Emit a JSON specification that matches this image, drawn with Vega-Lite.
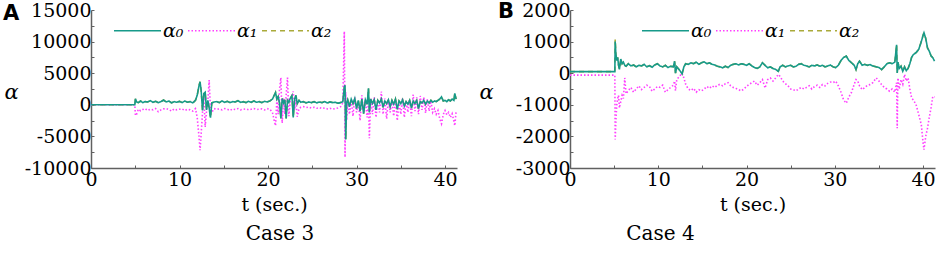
{
 "$schema": "https://vega.github.io/schema/vega-lite/v6.json",
 "padding": {"left": 3, "top": 1, "right": 0, "bottom": 0},
 "spacing": 18,
 "config": {
  "view": {"stroke": null},
  "font": "DejaVu Serif",
  "axis": {"grid": false, "domainColor": "#606060", "domainWidth": 1.5, "tickColor": "#606060", "tickSize": -3, "labelColor": "black", "labelFont": "DejaVu Serif", "labelFontSize": 19, "titleFont": "DejaVu Serif", "titleFontWeight": "normal", "titleColor": "black", "labelFlush": false},
  "title": {"font": "DejaVu Serif", "fontSize": 20, "fontWeight": "normal", "color": "black"}
 },
 "datasets": {
  "A": [
   {"t":0,"a0":0,"a1":0,"a2":0},
   {"t":4.95,"a0":0,"a1":0,"a2":0},
   {"t":5.02,"a0":950,"a1":-1700,"a2":950},
   {"t":5.15,"a0":450,"a1":-1500,"a2":450},
   {"t":5.35,"a0":350,"a1":-700,"a2":350},
   {"t":5.6,"a0":600,"a1":-950,"a2":600},
   {"t":5.85,"a0":350,"a1":-750,"a2":350},
   {"t":6.1,"a0":500,"a1":-600,"a2":500},
   {"t":6.4,"a0":450,"a1":-900,"a2":450},
   {"t":6.7,"a0":650,"a1":-700,"a2":650},
   {"t":7.0,"a0":400,"a1":-800,"a2":400},
   {"t":7.3,"a0":550,"a1":-600,"a2":550},
   {"t":7.6,"a0":350,"a1":-1100,"a2":350},
   {"t":7.9,"a0":500,"a1":-800,"a2":500},
   {"t":8.2,"a0":750,"a1":-650,"a2":750},
   {"t":8.5,"a0":450,"a1":-600,"a2":450},
   {"t":8.8,"a0":600,"a1":-750,"a2":600},
   {"t":9.1,"a0":300,"a1":-1000,"a2":300},
   {"t":9.4,"a0":500,"a1":-650,"a2":500},
   {"t":9.7,"a0":400,"a1":-800,"a2":400},
   {"t":10.0,"a0":550,"a1":-700,"a2":550},
   {"t":10.3,"a0":350,"a1":-650,"a2":350},
   {"t":10.6,"a0":600,"a1":-900,"a2":600},
   {"t":10.9,"a0":400,"a1":-700,"a2":400},
   {"t":11.2,"a0":500,"a1":-800,"a2":500},
   {"t":11.5,"a0":300,"a1":-1000,"a2":300},
   {"t":11.8,"a0":700,"a1":-600,"a2":700},
   {"t":12.0,"a0":1500,"a1":-2000,"a2":1500},
   {"t":12.2,"a0":3000,"a1":-5000,"a2":3000},
   {"t":12.32,"a0":3650,"a1":-7200,"a2":3650},
   {"t":12.45,"a0":2200,"a1":-4500,"a2":2200},
   {"t":12.6,"a0":-900,"a1":-1200,"a2":-900},
   {"t":12.75,"a0":1800,"a1":1200,"a2":1800},
   {"t":12.9,"a0":2000,"a1":-3500,"a2":2000},
   {"t":13.05,"a0":-800,"a1":-1000,"a2":-800},
   {"t":13.2,"a0":700,"a1":600,"a2":700},
   {"t":13.35,"a0":-500,"a1":3900,"a2":-500},
   {"t":13.5,"a0":-2050,"a1":-800,"a2":-2050},
   {"t":13.65,"a0":300,"a1":-1200,"a2":300},
   {"t":13.9,"a0":450,"a1":-600,"a2":450},
   {"t":14.2,"a0":500,"a1":-700,"a2":500},
   {"t":14.5,"a0":350,"a1":-650,"a2":350},
   {"t":14.8,"a0":600,"a1":-800,"a2":600},
   {"t":15.1,"a0":400,"a1":-600,"a2":400},
   {"t":15.4,"a0":550,"a1":-700,"a2":550},
   {"t":15.7,"a0":350,"a1":-900,"a2":350},
   {"t":16.0,"a0":500,"a1":-650,"a2":500},
   {"t":16.3,"a0":450,"a1":-750,"a2":450},
   {"t":16.6,"a0":650,"a1":-600,"a2":650},
   {"t":16.9,"a0":400,"a1":-800,"a2":400},
   {"t":17.2,"a0":500,"a1":-700,"a2":500},
   {"t":17.5,"a0":350,"a1":-650,"a2":350},
   {"t":17.8,"a0":550,"a1":-800,"a2":550},
   {"t":18.1,"a0":400,"a1":-700,"a2":400},
   {"t":18.4,"a0":600,"a1":-600,"a2":600},
   {"t":18.7,"a0":400,"a1":-750,"a2":400},
   {"t":19.0,"a0":500,"a1":-700,"a2":500},
   {"t":19.3,"a0":350,"a1":-650,"a2":350},
   {"t":19.6,"a0":550,"a1":-800,"a2":550},
   {"t":19.9,"a0":450,"a1":-600,"a2":450},
   {"t":20.2,"a0":600,"a1":-700,"a2":600},
   {"t":20.5,"a0":900,"a1":-1200,"a2":900},
   {"t":20.7,"a0":1500,"a1":-2500,"a2":1500},
   {"t":20.85,"a0":1950,"a1":-3300,"a2":1950},
   {"t":21.0,"a0":900,"a1":800,"a2":900},
   {"t":21.15,"a0":1300,"a1":-1500,"a2":1300},
   {"t":21.3,"a0":300,"a1":2500,"a2":300},
   {"t":21.45,"a0":-2150,"a1":4300,"a2":-2150},
   {"t":21.6,"a0":1000,"a1":-2900,"a2":1000},
   {"t":21.75,"a0":300,"a1":1000,"a2":300},
   {"t":21.9,"a0":800,"a1":-1500,"a2":800},
   {"t":22.05,"a0":-2150,"a1":1500,"a2":-2150},
   {"t":22.2,"a0":700,"a1":4300,"a2":700},
   {"t":22.35,"a0":400,"a1":-1800,"a2":400},
   {"t":22.5,"a0":1000,"a1":500,"a2":1000},
   {"t":22.7,"a0":1450,"a1":1200,"a2":1450},
   {"t":22.85,"a0":-2000,"a1":2100,"a2":-2000},
   {"t":23.0,"a0":900,"a1":-800,"a2":900},
   {"t":23.15,"a0":1500,"a1":800,"a2":1500},
   {"t":23.3,"a0":200,"a1":-1900,"a2":200},
   {"t":23.5,"a0":700,"a1":-600,"a2":700},
   {"t":23.7,"a0":400,"a1":-400,"a2":400},
   {"t":24.0,"a0":500,"a1":-300,"a2":500},
   {"t":24.3,"a0":300,"a1":-450,"a2":300},
   {"t":24.6,"a0":450,"a1":-350,"a2":450},
   {"t":24.9,"a0":350,"a1":-500,"a2":350},
   {"t":25.2,"a0":500,"a1":-400,"a2":500},
   {"t":25.5,"a0":300,"a1":-550,"a2":300},
   {"t":25.8,"a0":450,"a1":-450,"a2":450},
   {"t":26.1,"a0":350,"a1":-600,"a2":350},
   {"t":26.4,"a0":500,"a1":-500,"a2":500},
   {"t":26.7,"a0":300,"a1":-650,"a2":300},
   {"t":27.0,"a0":450,"a1":-550,"a2":450},
   {"t":27.3,"a0":350,"a1":-700,"a2":350},
   {"t":27.6,"a0":400,"a1":-600,"a2":400},
   {"t":27.9,"a0":250,"a1":-500,"a2":250},
   {"t":28.2,"a0":350,"a1":-300,"a2":350},
   {"t":28.45,"a0":500,"a1":300,"a2":500},
   {"t":28.62,"a0":2800,"a1":11600,"a2":2800},
   {"t":28.7,"a0":3100,"a1":-8300,"a2":3100},
   {"t":28.78,"a0":-5500,"a1":2000,"a2":-5500},
   {"t":28.88,"a0":300,"a1":-2500,"a2":300},
   {"t":29.0,"a0":800,"a1":500,"a2":800},
   {"t":29.2,"a0":-300,"a1":-1500,"a2":-300},
   {"t":29.4,"a0":900,"a1":800,"a2":900},
   {"t":29.6,"a0":200,"a1":-1800,"a2":200},
   {"t":29.8,"a0":1000,"a1":1200,"a2":1000},
   {"t":30.0,"a0":-600,"a1":-1200,"a2":-600},
   {"t":30.2,"a0":700,"a1":500,"a2":700},
   {"t":30.4,"a0":-1000,"a1":-2500,"a2":-1000},
   {"t":30.6,"a0":900,"a1":1500,"a2":900},
   {"t":30.8,"a0":-1400,"a1":-1200,"a2":-1400},
   {"t":31.0,"a0":800,"a1":900,"a2":800},
   {"t":31.2,"a0":100,"a1":-2000,"a2":100},
   {"t":31.35,"a0":2600,"a1":500,"a2":2600},
   {"t":31.45,"a0":-1200,"a1":-5300,"a2":-1200},
   {"t":31.6,"a0":900,"a1":1000,"a2":900},
   {"t":31.8,"a0":200,"a1":-1500,"a2":200},
   {"t":32.0,"a0":800,"a1":1200,"a2":800},
   {"t":32.2,"a0":-800,"a1":-2000,"a2":-800},
   {"t":32.4,"a0":700,"a1":700,"a2":700},
   {"t":32.6,"a0":300,"a1":-1200,"a2":300},
   {"t":32.8,"a0":900,"a1":2100,"a2":900},
   {"t":33.0,"a0":-400,"a1":-1500,"a2":-400},
   {"t":33.2,"a0":600,"a1":1000,"a2":600},
   {"t":33.4,"a0":200,"a1":-2200,"a2":200},
   {"t":33.6,"a0":800,"a1":800,"a2":800},
   {"t":33.8,"a0":-300,"a1":-1200,"a2":-300},
   {"t":34.0,"a0":700,"a1":600,"a2":700},
   {"t":34.2,"a0":100,"a1":-1800,"a2":100},
   {"t":34.4,"a0":900,"a1":900,"a2":900},
   {"t":34.6,"a0":-700,"a1":-2500,"a2":-700},
   {"t":34.8,"a0":600,"a1":500,"a2":600},
   {"t":35.0,"a0":200,"a1":-1500,"a2":200},
   {"t":35.2,"a0":800,"a1":1000,"a2":800},
   {"t":35.4,"a0":-200,"a1":-2000,"a2":-200},
   {"t":35.6,"a0":500,"a1":600,"a2":500},
   {"t":35.8,"a0":100,"a1":-1200,"a2":100},
   {"t":36.0,"a0":700,"a1":800,"a2":700},
   {"t":36.2,"a0":-500,"a1":-1800,"a2":-500},
   {"t":36.4,"a0":600,"a1":1600,"a2":600},
   {"t":36.6,"a0":200,"a1":-1000,"a2":200},
   {"t":36.8,"a0":700,"a1":1200,"a2":700},
   {"t":37.0,"a0":-600,"a1":-1500,"a2":-600},
   {"t":37.2,"a0":500,"a1":1400,"a2":500},
   {"t":37.4,"a0":300,"a1":-800,"a2":300},
   {"t":37.6,"a0":700,"a1":1200,"a2":700},
   {"t":37.8,"a0":100,"a1":-1300,"a2":100},
   {"t":38.0,"a0":600,"a1":900,"a2":600},
   {"t":38.2,"a0":300,"a1":-1000,"a2":300},
   {"t":38.4,"a0":700,"a1":600,"a2":700},
   {"t":38.6,"a0":400,"a1":-1200,"a2":400},
   {"t":38.8,"a0":600,"a1":-600,"a2":600},
   {"t":39.0,"a0":500,"a1":-1500,"a2":500},
   {"t":39.2,"a0":700,"a1":-900,"a2":700},
   {"t":39.4,"a0":900,"a1":-2200,"a2":900},
   {"t":39.6,"a0":1250,"a1":-3000,"a2":1250},
   {"t":39.8,"a0":600,"a1":-1500,"a2":600},
   {"t":40.0,"a0":700,"a1":-900,"a2":700},
   {"t":40.2,"a0":500,"a1":-1600,"a2":500},
   {"t":40.4,"a0":800,"a1":-1200,"a2":800},
   {"t":40.6,"a0":600,"a1":-2000,"a2":600},
   {"t":40.8,"a0":900,"a1":-1400,"a2":900},
   {"t":41.0,"a0":700,"a1":-2600,"a2":700},
   {"t":41.1,"a0":1800,"a1":-3300,"a2":1800},
   {"t":41.25,"a0":900,"a1":-1000,"a2":900}
  ],
  "B": [
   {"t":0,"a0":50,"a1":-60,"a2":50},
   {"t":5.08,"a0":50,"a1":-60,"a2":50},
   {"t":5.12,"a0":1000,"a1":-2100,"a2":1070},
   {"t":5.2,"a0":600,"a1":-1500,"a2":600},
   {"t":5.3,"a0":400,"a1":-1000,"a2":400},
   {"t":5.4,"a0":500,"a1":-800,"a2":500},
   {"t":5.5,"a0":250,"a1":-700,"a2":250},
   {"t":5.6,"a0":120,"a1":-1100,"a2":120},
   {"t":5.75,"a0":450,"a1":-900,"a2":450},
   {"t":5.9,"a0":300,"a1":-700,"a2":300},
   {"t":6.05,"a0":350,"a1":-800,"a2":350},
   {"t":6.2,"a0":250,"a1":-150,"a2":250},
   {"t":6.35,"a0":220,"a1":-650,"a2":220},
   {"t":6.6,"a0":300,"a1":-550,"a2":300},
   {"t":6.9,"a0":230,"a1":-450,"a2":230},
   {"t":7.2,"a0":260,"a1":-600,"a2":260},
   {"t":7.5,"a0":200,"a1":-500,"a2":200},
   {"t":7.8,"a0":250,"a1":-400,"a2":250},
   {"t":8.1,"a0":230,"a1":-520,"a2":230},
   {"t":8.4,"a0":280,"a1":-450,"a2":280},
   {"t":8.7,"a0":200,"a1":-380,"a2":200},
   {"t":9.0,"a0":240,"a1":-420,"a2":240},
   {"t":9.3,"a0":190,"a1":-570,"a2":190},
   {"t":9.6,"a0":260,"a1":-500,"a2":260},
   {"t":9.9,"a0":300,"a1":-420,"a2":300},
   {"t":10.2,"a0":230,"a1":-450,"a2":230},
   {"t":10.5,"a0":200,"a1":-380,"a2":200},
   {"t":10.8,"a0":250,"a1":-600,"a2":250},
   {"t":11.1,"a0":180,"a1":-520,"a2":180},
   {"t":11.4,"a0":220,"a1":-450,"a2":220},
   {"t":11.7,"a0":200,"a1":-380,"a2":200},
   {"t":11.85,"a0":380,"a1":-250,"a2":380},
   {"t":11.95,"a0":0,"a1":-550,"a2":0},
   {"t":12.1,"a0":200,"a1":-200,"a2":200},
   {"t":12.4,"a0":100,"a1":-100,"a2":100},
   {"t":12.7,"a0":-20,"a1":0,"a2":-20},
   {"t":12.9,"a0":200,"a1":-150,"a2":200},
   {"t":13.1,"a0":300,"a1":-350,"a2":300},
   {"t":13.4,"a0":280,"a1":-500,"a2":280},
   {"t":13.7,"a0":330,"a1":-550,"a2":330},
   {"t":14.0,"a0":300,"a1":-480,"a2":300},
   {"t":14.3,"a0":350,"a1":-600,"a2":350},
   {"t":14.6,"a0":280,"a1":-520,"a2":280},
   {"t":14.9,"a0":330,"a1":-560,"a2":330},
   {"t":15.2,"a0":360,"a1":-500,"a2":360},
   {"t":15.5,"a0":300,"a1":-420,"a2":300},
   {"t":15.8,"a0":330,"a1":-480,"a2":330},
   {"t":16.1,"a0":280,"a1":-400,"a2":280},
   {"t":16.4,"a0":260,"a1":-450,"a2":260},
   {"t":16.7,"a0":220,"a1":-380,"a2":220},
   {"t":17.0,"a0":200,"a1":-350,"a2":200},
   {"t":17.3,"a0":170,"a1":-400,"a2":170},
   {"t":17.6,"a0":220,"a1":-330,"a2":220},
   {"t":17.9,"a0":180,"a1":-300,"a2":180},
   {"t":18.2,"a0":250,"a1":-400,"a2":250},
   {"t":18.5,"a0":280,"a1":-450,"a2":280},
   {"t":18.8,"a0":300,"a1":-480,"a2":300},
   {"t":19.1,"a0":260,"a1":-520,"a2":260},
   {"t":19.4,"a0":300,"a1":-560,"a2":300},
   {"t":19.7,"a0":280,"a1":-500,"a2":280},
   {"t":20.0,"a0":250,"a1":-420,"a2":250},
   {"t":20.3,"a0":300,"a1":-350,"a2":300},
   {"t":20.6,"a0":230,"a1":-300,"a2":230},
   {"t":20.9,"a0":180,"a1":-250,"a2":180},
   {"t":21.2,"a0":150,"a1":-380,"a2":150},
   {"t":21.5,"a0":200,"a1":-300,"a2":200},
   {"t":21.8,"a0":330,"a1":-200,"a2":330},
   {"t":22.1,"a0":250,"a1":-470,"a2":250},
   {"t":22.4,"a0":170,"a1":-200,"a2":170},
   {"t":22.7,"a0":200,"a1":-150,"a2":200},
   {"t":23.0,"a0":150,"a1":-250,"a2":150},
   {"t":23.3,"a0":120,"a1":-150,"a2":120},
   {"t":23.6,"a0":60,"a1":-40,"a2":60},
   {"t":23.8,"a0":200,"a1":-100,"a2":200},
   {"t":24.1,"a0":250,"a1":-250,"a2":250},
   {"t":24.4,"a0":200,"a1":-330,"a2":200},
   {"t":24.7,"a0":230,"a1":-400,"a2":230},
   {"t":25.0,"a0":250,"a1":-500,"a2":250},
   {"t":25.3,"a0":200,"a1":-520,"a2":200},
   {"t":25.6,"a0":220,"a1":-560,"a2":220},
   {"t":25.9,"a0":280,"a1":-500,"a2":280},
   {"t":26.2,"a0":300,"a1":-450,"a2":300},
   {"t":26.5,"a0":250,"a1":-500,"a2":250},
   {"t":26.8,"a0":230,"a1":-450,"a2":230},
   {"t":27.1,"a0":200,"a1":-400,"a2":200},
   {"t":27.4,"a0":250,"a1":-500,"a2":250},
   {"t":27.7,"a0":230,"a1":-420,"a2":230},
   {"t":28.0,"a0":260,"a1":-380,"a2":260},
   {"t":28.3,"a0":220,"a1":-450,"a2":220},
   {"t":28.6,"a0":250,"a1":-360,"a2":250},
   {"t":28.9,"a0":200,"a1":-400,"a2":200},
   {"t":29.2,"a0":230,"a1":-320,"a2":230},
   {"t":29.5,"a0":260,"a1":-280,"a2":260},
   {"t":29.8,"a0":200,"a1":-300,"a2":200},
   {"t":30.1,"a0":180,"a1":-250,"a2":180},
   {"t":30.4,"a0":250,"a1":-400,"a2":250},
   {"t":30.7,"a0":400,"a1":-600,"a2":400},
   {"t":31.0,"a0":500,"a1":-850,"a2":500},
   {"t":31.3,"a0":540,"a1":-950,"a2":540},
   {"t":31.6,"a0":400,"a1":-750,"a2":400},
   {"t":31.9,"a0":330,"a1":-600,"a2":330},
   {"t":32.2,"a0":250,"a1":-350,"a2":250},
   {"t":32.4,"a0":115,"a1":-200,"a2":115},
   {"t":32.6,"a0":300,"a1":-250,"a2":300},
   {"t":32.8,"a0":380,"a1":-400,"a2":380},
   {"t":33.1,"a0":250,"a1":-520,"a2":250},
   {"t":33.4,"a0":280,"a1":-450,"a2":280},
   {"t":33.7,"a0":250,"a1":-380,"a2":250},
   {"t":34.0,"a0":270,"a1":-360,"a2":270},
   {"t":34.3,"a0":230,"a1":-300,"a2":230},
   {"t":34.7,"a0":200,"a1":-150,"a2":200},
   {"t":35.0,"a0":180,"a1":-250,"a2":180},
   {"t":35.3,"a0":115,"a1":-360,"a2":115},
   {"t":35.6,"a0":200,"a1":-450,"a2":200},
   {"t":35.9,"a0":300,"a1":-500,"a2":300},
   {"t":36.2,"a0":330,"a1":-570,"a2":330},
   {"t":36.5,"a0":300,"a1":-500,"a2":300},
   {"t":36.8,"a0":350,"a1":-600,"a2":350},
   {"t":37.0,"a0":900,"a1":-300,"a2":900},
   {"t":37.07,"a0":10,"a1":-1740,"a2":10},
   {"t":37.15,"a0":350,"a1":-150,"a2":350},
   {"t":37.3,"a0":150,"a1":-500,"a2":150},
   {"t":37.5,"a0":220,"a1":-200,"a2":220},
   {"t":37.7,"a0":60,"a1":-350,"a2":60},
   {"t":37.9,"a0":200,"a1":-40,"a2":200},
   {"t":38.1,"a0":80,"a1":-250,"a2":80},
   {"t":38.3,"a0":150,"a1":-150,"a2":150},
   {"t":38.5,"a0":300,"a1":-500,"a2":300},
   {"t":38.7,"a0":500,"a1":-780,"a2":500},
   {"t":38.9,"a0":590,"a1":-850,"a2":590},
   {"t":39.2,"a0":650,"a1":-990,"a2":650},
   {"t":39.5,"a0":750,"a1":-1300,"a2":750},
   {"t":39.8,"a0":1000,"a1":-1630,"a2":1000},
   {"t":40.0,"a0":1200,"a1":-2200,"a2":1200},
   {"t":40.1,"a0":1280,"a1":-2420,"a2":1280},
   {"t":40.3,"a0":1100,"a1":-2000,"a2":1100},
   {"t":40.5,"a0":800,"a1":-1740,"a2":800},
   {"t":40.7,"a0":700,"a1":-1400,"a2":700},
   {"t":40.9,"a0":550,"a1":-1100,"a2":550},
   {"t":41.1,"a0":490,"a1":-730,"a2":490},
   {"t":41.3,"a0":380,"a1":-750,"a2":380}
  ]
 },
 "hconcat": [
  {
   "width": 366, "height": 158,
   "title": {"text": "Case 3", "orient": "bottom", "dx": 6, "offset": 10},
   "layer": [
    {
     "data": {"name": "A"},
     "transform": [{"fold": ["a2", "a1", "a0"], "as": ["s", "v"]}],
     "mark": {"type": "line", "strokeWidth": 1.6},
     "encoding": {
      "x": {"field": "t", "type": "quantitative", "scale": {"domain": [0, 41.35], "nice": false},
            "axis": {"values": [0,5,10,15,20,25,30,35,40], "labelExpr": "datum.value % 10 === 0 ? '' + datum.value : ''", "labelOverlap": false, "title": "t (sec.)", "titleFontSize": 19, "titlePadding": 6, "labelPadding": 5}},
      "y": {"field": "v", "type": "quantitative", "scale": {"domain": [-10000, 15000], "nice": false},
            "axis": {"values": [-10000,-7500,-5000,-2500,0,2500,5000,7500,10000,12500,15000], "labelExpr": "datum.value % 5000 === 0 ? '' + datum.value : ''", "labelOverlap": false, "labelPadding": 3, "title": "α", "titleAngle": 0, "titleFontStyle": "italic", "titleFontSize": 21, "titleX": -80, "titleY": 82, "titleAlign": "center", "titleBaseline": "middle"}},
      "color": {"field": "s", "type": "nominal", "scale": {"domain": ["a0", "a1", "a2"], "range": ["#179a8a", "#ff40ff", "#aaaa3a"]},
                "legend": {"orient": "none", "legendX": 22, "legendY": -4, "direction": "horizontal", "title": null, "symbolType": "stroke", "symbolSize": 2209, "symbolStrokeWidth": 1.6, "labelFont": "DejaVu Serif", "labelFontStyle": "italic", "labelFontSize": 19, "labelColor": "black", "columnPadding": 0, "labelOffset": 1, "padding": 0, "labelExpr": "{'a0':'α₀','a1':'α₁','a2':'α₂'}[datum.label]"}},
      "strokeDash": {"field": "s", "type": "nominal", "scale": {"domain": ["a0", "a1", "a2"], "range": [[1, 0], [1.5, 2], [5, 4]]},
                "legend": {"orient": "none", "legendX": 22, "legendY": -4, "direction": "horizontal", "title": null, "symbolType": "stroke", "symbolSize": 2209, "symbolStrokeWidth": 1.6, "labelFont": "DejaVu Serif", "labelFontStyle": "italic", "labelFontSize": 19, "labelColor": "black", "columnPadding": 0, "labelOffset": 1, "padding": 0, "labelExpr": "{'a0':'α₀','a1':'α₁','a2':'α₂'}[datum.label]"}}
     }
    },
    {
     "data": {"values": [{"t": -9.94, "v": 13490, "lab": "A"}]},
     "mark": {"type": "text", "align": "left", "baseline": "alphabetic", "font": "DejaVu Sans", "fontWeight": "bold", "fontSize": 21, "clip": false, "color": "black"},
     "encoding": {
      "x": {"field": "t", "type": "quantitative", "scale": {"domain": [0, 41.35], "nice": false},
            "axis": {"values": [0,5,10,15,20,25,30,35,40], "labelExpr": "datum.value % 10 === 0 ? '' + datum.value : ''", "labelOverlap": false, "title": "t (sec.)", "titleFontSize": 19, "titlePadding": 6, "labelPadding": 5}},
      "y": {"field": "v", "type": "quantitative", "scale": {"domain": [-10000, 15000], "nice": false},
            "axis": {"values": [-10000,-7500,-5000,-2500,0,2500,5000,7500,10000,12500,15000], "labelExpr": "datum.value % 5000 === 0 ? '' + datum.value : ''", "labelOverlap": false, "labelPadding": 3, "title": "α", "titleAngle": 0, "titleFontStyle": "italic", "titleFontSize": 21, "titleX": -80, "titleY": 82, "titleAlign": "center", "titleBaseline": "middle"}},
      "text": {"field": "lab"}}
    }
   ]
  },
  {
   "width": 365, "height": 158,
   "title": {"text": "Case 4", "orient": "bottom", "dx": -92, "offset": 10},
   "layer": [
    {
     "data": {"name": "B"},
     "transform": [{"fold": ["a2", "a1", "a0"], "as": ["s", "v"]}],
     "mark": {"type": "line", "strokeWidth": 1.6},
     "encoding": {
      "x": {"field": "t", "type": "quantitative", "scale": {"domain": [0, 41.35], "nice": false},
            "axis": {"values": [0,5,10,15,20,25,30,35,40], "labelExpr": "datum.value % 10 === 0 ? '' + datum.value : ''", "labelOverlap": false, "title": "t (sec.)", "titleFontSize": 19, "titlePadding": 6, "labelPadding": 5}},
      "y": {"field": "v", "type": "quantitative", "scale": {"domain": [-3000, 2000], "nice": false},
            "axis": {"values": [-3000,-2500,-2000,-1500,-1000,-500,0,500,1000,1500,2000], "labelExpr": "datum.value % 1000 === 0 ? '' + datum.value : ''", "labelOverlap": false, "labelPadding": 3, "title": "α", "titleAngle": 0, "titleFontStyle": "italic", "titleFontSize": 21, "titleX": -84, "titleY": 82, "titleAlign": "center", "titleBaseline": "middle"}},
      "color": {"field": "s", "type": "nominal", "scale": {"domain": ["a0", "a1", "a2"], "range": ["#179a8a", "#ff40ff", "#aaaa3a"]},
                "legend": {"orient": "none", "legendX": 71, "legendY": -4, "direction": "horizontal", "title": null, "symbolType": "stroke", "symbolSize": 2209, "symbolStrokeWidth": 1.6, "labelFont": "DejaVu Serif", "labelFontStyle": "italic", "labelFontSize": 19, "labelColor": "black", "columnPadding": 0, "labelOffset": 1, "padding": 0, "labelExpr": "{'a0':'α₀','a1':'α₁','a2':'α₂'}[datum.label]"}},
      "strokeDash": {"field": "s", "type": "nominal", "scale": {"domain": ["a0", "a1", "a2"], "range": [[1, 0], [1.5, 2], [5, 4]]},
                "legend": {"orient": "none", "legendX": 71, "legendY": -4, "direction": "horizontal", "title": null, "symbolType": "stroke", "symbolSize": 2209, "symbolStrokeWidth": 1.6, "labelFont": "DejaVu Serif", "labelFontStyle": "italic", "labelFontSize": 19, "labelColor": "black", "columnPadding": 0, "labelOffset": 1, "padding": 0, "labelExpr": "{'a0':'α₀','a1':'α₁','a2':'α₂'}[datum.label]"}}
     }
    },
    {
     "data": {"values": [{"t": -8.15, "v": 1746, "lab": "B"}]},
     "mark": {"type": "text", "align": "left", "baseline": "alphabetic", "font": "DejaVu Sans", "fontWeight": "bold", "fontSize": 21, "clip": false, "color": "black"},
     "encoding": {
      "x": {"field": "t", "type": "quantitative", "scale": {"domain": [0, 41.35], "nice": false},
            "axis": {"values": [0,5,10,15,20,25,30,35,40], "labelExpr": "datum.value % 10 === 0 ? '' + datum.value : ''", "labelOverlap": false, "title": "t (sec.)", "titleFontSize": 19, "titlePadding": 6, "labelPadding": 5}},
      "y": {"field": "v", "type": "quantitative", "scale": {"domain": [-3000, 2000], "nice": false},
            "axis": {"values": [-3000,-2500,-2000,-1500,-1000,-500,0,500,1000,1500,2000], "labelExpr": "datum.value % 1000 === 0 ? '' + datum.value : ''", "labelOverlap": false, "labelPadding": 3, "title": "α", "titleAngle": 0, "titleFontStyle": "italic", "titleFontSize": 21, "titleX": -84, "titleY": 82, "titleAlign": "center", "titleBaseline": "middle"}},
      "text": {"field": "lab"}}
    }
   ]
  }
 ],
 "resolve": {"scale": {"color": "independent", "strokeDash": "independent"}}
}
